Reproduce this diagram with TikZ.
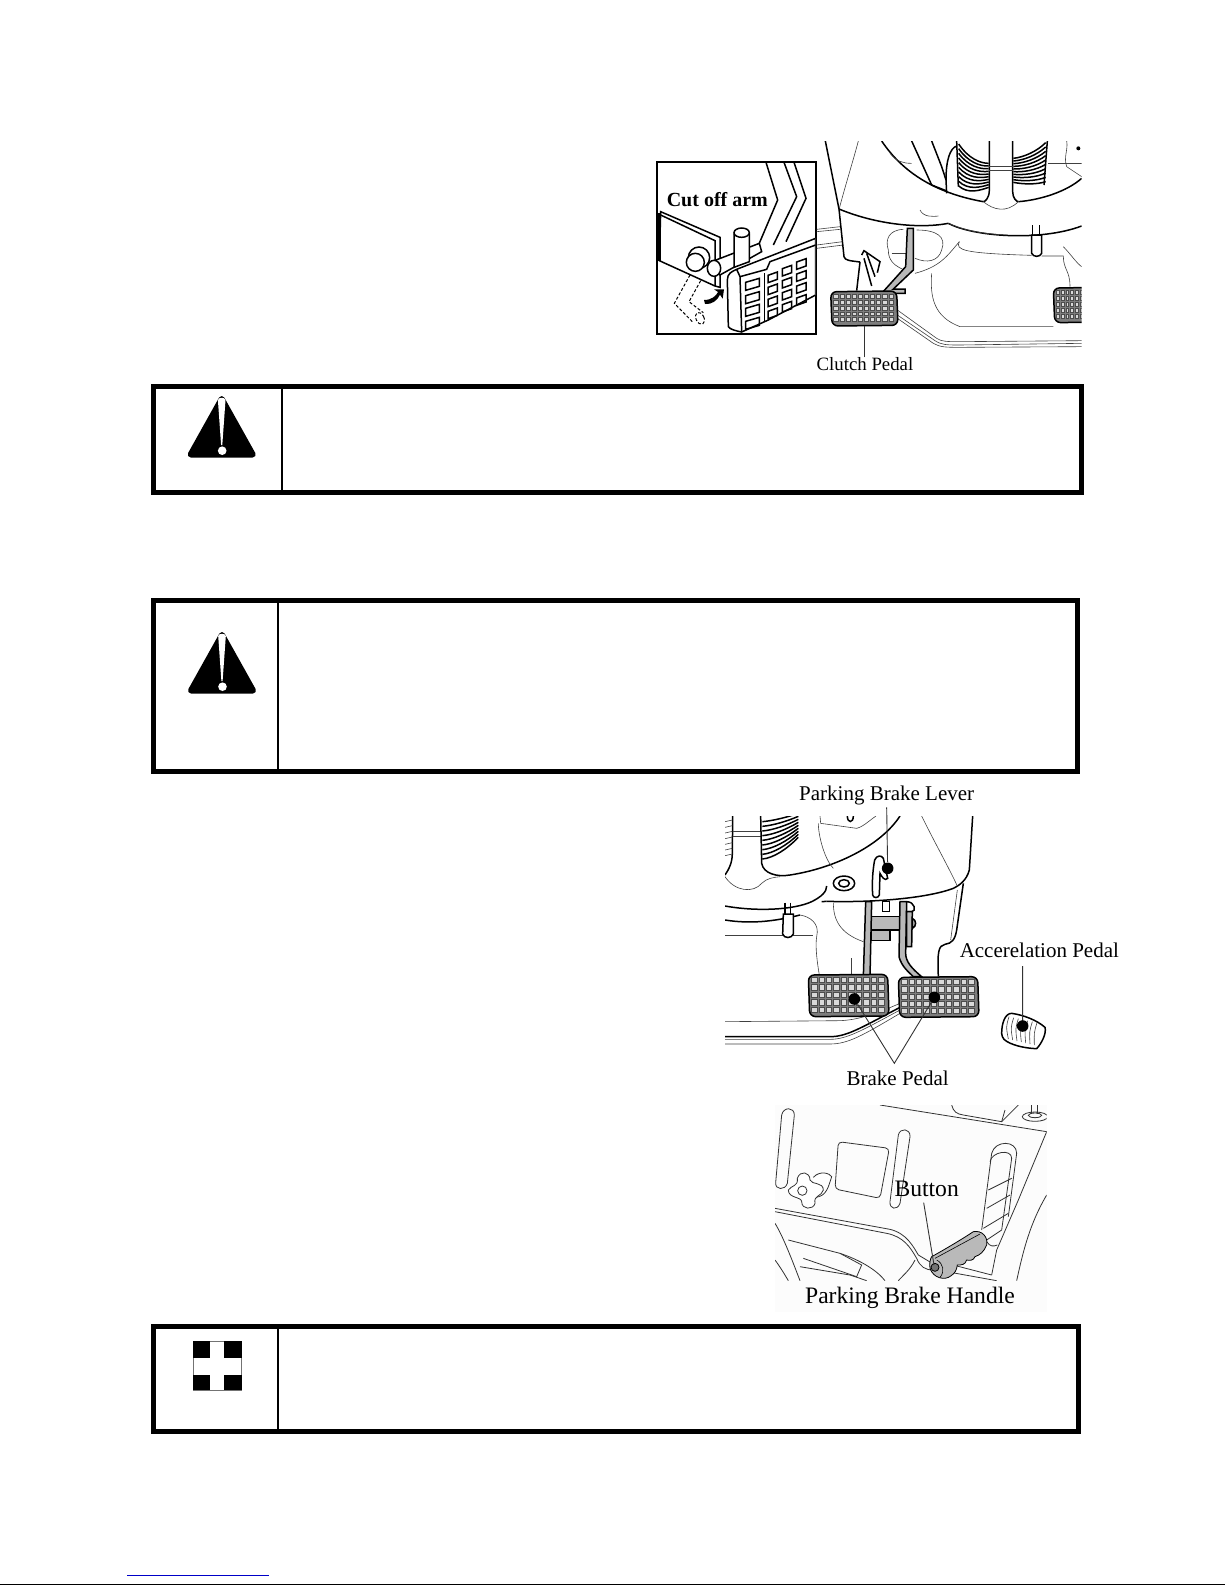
\documentclass[tikz,border=0pt]{standalone}
\usepackage{fontspec}
\setmainfont{Liberation Serif}
\usepackage{xcolor}
\usetikzlibrary{positioning,calc}
\definecolor{padgray}{RGB}{125,125,125}
\definecolor{armgray}{RGB}{185,185,185}
\definecolor{linkblue}{RGB}{0,0,200}
\tikzset{
  frame/.style={draw=black, line width=2.5pt},
  divider/.style={draw=black, line width=1pt},
  heavy/.style={draw=black, line width=0.75pt},
  fine/.style={draw=black!75, line width=0.3pt},
  soft/.style={draw=black!80, line width=0.4pt},
  shadow line/.style={draw=black, dash pattern=on 1.5pt off 1pt, line width=0.5pt},
  tag/.style={inner sep=0pt, font=\fontsize{10.5}{12}\selectfont},
  bigtag/.style={inner sep=0pt, font=\fontsize{11.8}{13}\selectfont},
  leader/.style={draw=black!80, line width=0.45pt},
  spot/.style={circle, fill=black, inner sep=0pt, minimum size=5.8pt},
  cellbox/.style={draw=black!70, line width=0.3pt, fill=black!15},
}
% warning triangle, #1 centre, #2 top level
\newcommand{\warnsign}[2]{
  \fill[black, line join=round, line width=3pt, draw=black]
    ($(#1,#2)+(0,5)$) -- ($(#1,#2)+(31,60.5)$) -- ($(#1,#2)+(-31,60.5)$) -- cycle;
  \fill[white] ($(#1,#2)+(-3.8,6)$) .. controls ($(#1,#2)+(-3.2,3)$) and ($(#1,#2)+(3.2,3)$) .. ($(#1,#2)+(3.8,6)$)
    -- ($(#1,#2)+(0.6,51)$) -- ($(#1,#2)+(-0.6,51)$) -- cycle;
  \fill[white] ($(#1,#2)+(0.5,56.7)$) circle (4.3);
}
% ribbed pedal pad: corners #1 #2, #3 #4 in zoom units
\newcommand{\pedalpad}[4]{
  \fill[padgray, draw=black, line width=0.75pt, rounded corners=3pt]
    (#1,#2+2) -- (#3-2,#2) -- (#3+2,#4-2) -- (#1+4,#4) -- cycle;
  \foreach \cx in {0,...,9}
    \foreach \cy in {0,...,4}
      \draw[cellbox] ({#1+8+\cx*(#3-#1-16)/10+1},{#2+9+\cy*(#4-#2-16)/5})
        rectangle ++({(#3-#1-16)/10-6},{(#4-#2-16)/5-6});
}
\begin{document}
\begin{tikzpicture}[x=0.5pt, y=-0.5pt]
\useasboundingbox (0,0) rectangle (1225,1585);

% notice boxes
\draw[frame] (153.5,386.5) rectangle (1081.5,492);
\draw[divider] (281.7,389) -- (281.7,490);
\warnsign{221.7}{394}
\draw[frame] (153.5,600.5) rectangle (1077.5,771);
\draw[divider] (278,603) -- (278,769);
\warnsign{222}{630}
\draw[frame] (153.5,1326.5) rectangle (1078,1431.5);
\draw[line width=1pt] (277.7,1329) -- (277.7,1429);
% cross sign
\draw[draw=black!55, line width=0.5pt] (193,1341) rectangle (241.7,1390.5);
\fill (193,1341) rectangle (210,1358);
\fill (224,1341) rectangle (241.7,1358);
\fill (193,1375) rectangle (210,1390);
\fill (224,1375) rectangle (241.7,1390);

% clutch figure
\begin{scope}[shift={(640,130)}, scale=1/3]
  \draw[line width=1pt] (52,97) rectangle (527,611);
  \begin{scope}
    \clip (52,97) rectangle (527,611);
    \draw[heavy] (378,97) -- (413,210) -- (345,370);
    \draw[heavy] (432,97) -- (470,200) -- (400,345);
    \draw[heavy] (462,97) -- (498,205) -- (438,335);
    % bracket plate
    \draw[heavy, fill=white] (62,245) -- (240,322) -- (240,472) -- (225,468) -- (58,392) -- cycle;
    \draw[heavy] (62,255) -- (225,332) -- (225,468);
    \draw[line width=1.5pt] (58,250) -- (58,392);
    % rod and bolt
    \draw[heavy, fill=white] (215,395) -- (358,340) -- (365,365) -- (240,435) -- cycle;
    \draw[heavy, fill=white] (222,415) ellipse (20 and 24);
    \draw[heavy, fill=white] (177,383) circle (32);
    \draw[heavy, fill=white] (166,397) circle (27);
    % post
    \draw[heavy, fill=white] (282,310) -- (282,412) -- (328,395) -- (328,310);
    \draw[heavy, fill=white] (305,308) ellipse (23 and 14);
    % dashed lever
    \draw[shadow line] (150,435) -- (103,520) -- (160,578);
    \draw[shadow line] (182,452) -- (147,515) -- (190,548);
    \draw[shadow line, rotate around={25:(180,565)}] (180,565) ellipse (12 and 19);
    % swing arrow
    \fill (192,510) .. controls (215,510) and (228,498) .. (234,486) -- (222,478) -- (252,478) -- (248,506)
      -- (240,494) .. controls (232,512) and (215,524) .. (195,522) -- cycle;
    % pedal face
    \draw[heavy, fill=white] (262,450) .. controls (262,430) and (275,425) .. (290,418)
      -- (527,325) -- (527,495) -- (385,570) -- (305,606) .. controls (285,602) and (270,598) .. (265,590) -- cycle;
    \draw[heavy] (305,606) -- (300,440) -- (290,418);
    \draw[heavy] (300,440) -- (380,418) -- (390,395) -- (527,345);
    \draw[heavy] (373,430) -- (373,575);
    \foreach \ry in {457,497,535,574} {
      \draw[heavy] (317,\ry) -- ++(41,-12) -- ++(0,24) -- ++(-41,12) -- cycle;
    }
    \foreach \cx in {0,1,2}
      \foreach \cy in {0,1,2,3} {
        \draw[heavy] ({384+\cx*43},{436-\cx*20+\cy*36}) -- ++(28,-10) -- ++(0,22) -- ++(-28,10) -- cycle;
      }
  \end{scope}
  \node[font=\fontsize{10}{12}\selectfont\bfseries, inner sep=0pt] (armtag) at (232,210) {Cut off arm};

  % console behind the clutch pedal
  \begin{scope}
    \clip (528,33) rectangle (1325,660);
    \draw[fine] (530,298) -- (600,290);
    \draw[fine] (530,305) -- (600,298);
    \draw[fine] (530,345) -- (608,335);
    \draw[fine] (530,355) -- (610,345);
    \draw[heavy] (556,33) -- (597,237) -- (612,380) .. controls (615,392) and (630,392) .. (660,396);
    \draw[fine] (655,33) .. controls (640,90) and (615,170) .. (598,235);
    \draw[heavy] (660,396) -- (650,482);
    \draw[heavy] (597,237) .. controls (700,280) and (830,298) .. (925,280);
    \draw[heavy] (725,33) .. controls (790,130) and (890,190) .. (1030,215);
    \draw[heavy] (1135,215) .. controls (1200,210) and (1280,185) .. (1325,145);
    \draw[heavy] (925,280) .. controls (1000,320) and (1200,335) .. (1325,288);
    \draw[heavy] (815,33) -- (875,165) -- (918,182);
    \draw[heavy] (875,33) -- (905,110) -- (918,150) -- (920,190);
    \draw[heavy] (918,150) .. controls (918,90) and (930,55) .. (950,48);
    \draw[heavy] (950,33) -- (955,170);
    \draw[heavy] (1048,33) -- (1048,180) .. controls (1048,205) and (1035,215) .. (1030,215);
    \draw[heavy] (1118,33) -- (1118,185) .. controls (1118,205) and (1130,215) .. (1135,215);
    \draw[heavy] (1222,33) -- (1212,165);
    \foreach \sy in {0,1,...,9} {
      \draw[heavy] (956,{42+\sy*14}) .. controls (985,{85+\sy*12}) and (1020,{100+\sy*9}) .. (1046,{100+\sy*8});
      \draw[heavy] (1217,{38+\sy*13}) .. controls (1190,{65+\sy*11}) and (1150,{82+\sy*9}) .. (1120,{85+\sy*8});
    }
    \draw[fine] (1048,110) -- (1118,110);
    \draw[fine] (1048,120) -- (1118,120);
    \draw[fine] (1030,215) .. controls (1060,240) and (1100,250) .. (1135,215);
    \draw[fine] (750,70) .. controls (770,95) and (790,100) .. (815,100);
    \draw[fine] (1225,100) -- (1325,100);
    \draw[fine] (1280,33) .. controls (1285,60) and (1270,80) .. (1280,110) -- (1325,140);
    \fill (1315,55) circle (6);
    \draw[fine] (840,240) .. controls (850,262) and (880,260) .. (895,258);
    \draw[fine] (925,280) .. controls (960,295) and (1000,310) .. (1100,315);
    % lower floor
    \draw[fine] (790,298) .. controls (745,300) and (735,330) .. (745,360) .. controls (745,385) and (755,410) .. (810,425);
    \draw[fine] (830,300) .. controls (890,300) and (920,320) .. (905,360) .. controls (895,395) and (860,400) .. (825,385);
    \draw[fine] (755,370) -- (800,370);
    \draw[fine] (958,335) .. controls (920,380) and (900,410) .. (825,430);
    \draw[fine] (875,430) .. controls (870,500) and (880,560) .. (960,590) -- (1240,590);
    \draw[fine] (958,335) .. controls (945,360) and (970,370) .. (1175,376);
    \draw[fine] (1205,378) -- (1270,378) .. controls (1270,420) and (1290,420) .. (1290,470);
    \draw[fine] (1270,350) .. controls (1290,370) and (1310,400) .. (1325,410);
    % latch
    \draw[heavy, fill=white] (1175,315) -- (1205,315) -- (1205,370) .. controls (1200,382) and (1180,382) .. (1175,370) -- cycle;
    \draw[heavy] (1178,285) -- (1178,315);
    \draw[heavy] (1198,285) -- (1198,315);
    % pin clip
    \draw[heavy] (665,375) -- (672,362) -- (720,395) -- (712,428);
    \draw[heavy] (672,385) -- (695,468);
    \draw[heavy] (680,370) -- (705,440);
    % clutch arm
    \draw[heavy, fill=armgray] (802,295) -- (797,410) -- (725,490) -- (795,490) -- (795,477) -- (760,477) -- (820,420) -- (820,295) -- cycle;
    % floor sill
    \draw[fine] (772,540) -- (890,625) .. controls (905,635) and (920,635) .. (960,635) -- (1325,632);
    \draw[fine] (772,555) -- (885,632) .. controls (905,645) and (920,645) .. (960,645) -- (1325,640);
    \draw[fine] (772,565) -- (880,640) .. controls (900,652) and (920,652) .. (960,652) -- (1325,650);
    \pedalpad{1240}{472}{1400}{578}
    \pedalpad{572}{483}{772}{588}
  \end{scope}
  \node[tag, font=\fontsize{9.4}{11}\selectfont] (clutchtag) at (675,703) {Clutch Pedal};
  \coordinate (clutchend) at (673,588);
  \draw[leader] (clutchtag.north -| clutchend) -- (clutchend);
\end{scope}

% brake figure
\begin{scope}[shift={(700,780)}, scale=1/3]
  \begin{scope}
    \clip (75,108) rectangle (830,800);
    \draw[heavy] (98,108) -- (97,220) .. controls (97,250) and (85,270) .. (75,285);
    \foreach \sy in {0,...,6} { \draw[fine] (75,{125+\sy*17}) -- (97,{120+\sy*17}); }
    \draw[fine] (98,155) -- (182,155);
    \draw[fine] (98,170) -- (182,170);
    \draw[heavy] (182,108) -- (185,250) .. controls (190,280) and (230,292) .. (270,285)
      .. controls (400,265) and (540,200) .. (600,108);
    \draw[fine] (75,290) .. controls (105,335) and (160,340) .. (185,310) .. controls (200,295) and (220,292) .. (240,290);
    \foreach \sy in {0,...,8} {
      \draw[heavy] (187,{125+\sy*14}) .. controls (220,{122+\sy*14}) and (260,{112+\sy*12}) .. (295,{100+\sy*9});
    }
    \draw[fine] (360,108) -- (362,130) -- (470,145) .. controls (490,140) and (510,120) .. (528,108);
    \draw[heavy] (442,108) .. controls (442,130) and (460,130) .. (460,108);
    \draw[fine] (355,130) .. controls (355,170) and (375,240) .. (400,265);
    % column shroud
    \draw[heavy] (818,108) -- (808,270) .. controls (800,300) and (780,315) .. (760,325)
      .. controls (680,355) and (520,368) .. (380,364);
    \draw[fine] (665,108) .. controls (700,180) and (745,260) .. (772,318);
    \draw[heavy] (790,310) -- (770,450) .. controls (765,480) and (755,490) .. (735,493)
      .. controls (715,497) and (712,515) .. (715,590);
    \draw[fine] (772,330) -- (752,480);
    \draw[heavy] (75,378) .. controls (170,395) and (280,390) .. (335,365) .. controls (365,350) and (380,335) .. (380,318);
    \draw[heavy] (380,364) -- (365,365);
    \draw[heavy] (75,420) .. controls (150,432) and (220,425) .. (300,405);
    \draw[fine] (300,405) .. controls (330,410) and (360,430) .. (350,470) .. controls (345,500) and (352,550) .. (358,585);
    \draw[fine] (75,465) -- (340,465);
    \draw[fine] (400,368) .. controls (400,420) and (420,460) .. (490,485);
    \draw[fine] (455,535) -- (455,585);
    % lever recess
    \draw[heavy, fill=white] (432,310) ellipse (32 and 22);
    \draw[heavy] (432,310) ellipse (16 and 11);
    % latch
    \draw[heavy, fill=white] (250,402) -- (280,402) -- (280,462) .. controls (275,476) and (252,476) .. (248,462) -- cycle;
    \draw[heavy] (255,368) -- (255,402);
    \draw[heavy] (272,368) -- (272,402);
    % parking lever
    \draw[heavy, fill=white] (518,345) .. controls (515,300) and (520,260) .. (524,240)
      .. controls (530,225) and (545,225) .. (550,235) -- (563,295) .. controls (555,305) and (545,290) .. (540,280)
      -- (538,345) .. controls (535,355) and (520,355) .. (518,345) -- cycle;
    % floor sill
    \draw[fine] (75,725) -- (420,722) .. controls (470,720) and (520,705) .. (600,670);
    \draw[heavy] (75,770) -- (390,770) .. controls (440,770) and (480,745) .. (600,682);
    \draw[fine] (75,778) -- (390,778) .. controls (440,778) and (485,752) .. (600,690);
    \draw[fine] (75,792) -- (390,792) .. controls (445,792) and (490,765) .. (600,700);
    % pedal arms and links
    \draw[heavy, fill=white] (548,365) rectangle (568,395);
    \draw[heavy, fill=white] (620,365) .. controls (645,365) and (650,395) .. (635,395) -- (620,395);
    \draw[heavy, fill=armgray] (515,410) -- (612,410) -- (612,450) -- (515,450) -- cycle;
    \draw[heavy, fill=armgray] (515,450) -- (570,450) -- (570,482) -- (515,482) -- cycle;
    \draw[heavy, fill=armgray] (497,365) -- (490,590) -- (510,590) -- (515,365) -- cycle;
    \draw[heavy, fill=armgray] (600,365) -- (597,530) .. controls (605,560) and (625,575) .. (640,590) -- (665,590)
      .. controls (635,565) and (617,545) .. (617,520) -- (620,365) -- cycle;
    \draw[heavy, fill=armgray] (620,395) -- (637,395) -- (635,500) -- (620,500) -- cycle;
    \draw[heavy, fill=armgray] (637,415) .. controls (650,420) and (650,440) .. (637,445) -- cycle;
  \end{scope}
  \pedalpad{325}{583}{565}{710}
  \pedalpad{595}{590}{835}{712}
  % accelerator
  \draw[heavy, fill=white] (905,760) .. controls (905,730) and (915,700) .. (935,700)
    .. controls (970,705) and (1010,720) .. (1035,742) .. controls (1040,760) and (1025,790) .. (1010,806)
    .. controls (975,805) and (930,795) .. (912,778) .. controls (908,772) and (905,768) .. (905,760) -- cycle;
  \foreach \gx in {0,...,6} {
    \draw[fine] ({927+\gx*14},{710+\gx*3}) .. controls ({918+\gx*14},{740+\gx*3}) .. ({925+\gx*13},{777+\gx*3});
  }
  \node[tag] (levertag) at (560,45) {Parking Brake Lever};
  \node[tag] (acceltag) at (1018,512) {Accerelation Pedal};
  \node[tag] (braketag) at (593,895) {Brake Pedal};
  \node[spot] (leverspot) at (563,265) {};
  \node[spot] (accelspot) at (968,738) {};
  \node[spot] (brakespotA) at (463,657) {};
  \node[spot] (brakespotB) at (703,652) {};
  \coordinate (brakejoin) at (583,850);
  \draw[leader] (560,82) -- (leverspot);
  \draw[leader] (968,558) -- (accelspot);
  \draw[leader] (brakespotA) -- (brakejoin) -- (brakespotB);
\end{scope}

% handle figure
\begin{scope}[shift={(760,1090)}, scale=1/3]
  \fill[black!1] (45,45) rectangle (862,665);
  \begin{scope}
    \clip (45,45) rectangle (860,572);
    \draw[soft] (65,75) .. controls (70,50) and (103,50) .. (103,75)
      -- (82,280) .. controls (75,302) and (45,300) .. (47,278) -- cycle;
    \draw[soft] (415,135) .. controls (420,112) and (452,115) .. (450,140)
      -- (420,340) .. controls (412,362) and (388,358) .. (390,335) -- cycle;
    \draw[soft, rounded corners=2pt] (235,155) -- (388,175) -- (360,325) -- (225,297) -- cycle;
    \draw[soft] (360,45) -- (860,125);
    \draw[soft] (575,45) .. controls (580,65) and (590,72) .. (610,75) -- (725,95) -- (775,45);
    \draw[soft] (725,95) -- (735,60);
    \draw[soft] (860,125) -- (775,330) -- (710,480) -- (695,555);
    \draw[soft] (860,315) .. controls (810,400) and (790,480) .. (770,572);
    % nut at the top
    \draw[soft] (815,45) -- (815,72);
    \draw[soft] (832,45) -- (832,72);
    \draw[soft] (825,80) ellipse (38 and 14);
    \draw[soft] (825,76) ellipse (20 and 7);
    % slot with the handle
    \draw[soft] (665,420) -- (695,190) .. controls (705,150) and (770,150) .. (770,190) -- (745,380);
    \draw[soft] (690,215) .. controls (695,185) and (755,175) .. (755,205) -- (725,420);
    \draw[soft] (685,300) -- (755,265);
    \draw[soft] (680,355) -- (750,315);
    \draw[soft] (670,415) -- (745,370);
    \draw[soft] (680,450) -- (725,420);
    \draw[soft] (680,455) .. controls (690,470) and (700,470) .. (712,465);
    % knob
    \draw[soft, fill=white] (160,262) .. controls (180,240) and (210,250) .. (215,260)
      .. controls (205,290) and (200,320) .. (165,322);
    \draw[soft, fill=white] (85,300) .. controls (95,285) and (115,290) .. (112,265)
      .. controls (120,240) and (150,245) .. (150,270) .. controls (155,285) and (190,275) .. (190,300)
      .. controls (185,320) and (160,315) .. (165,340) .. controls (160,360) and (125,360) .. (125,335)
      .. controls (125,320) and (85,325) .. (85,300) -- cycle;
    \draw[soft] (127,302) circle (14);
    % dash panel rim
    \draw[soft] (45,365) -- (380,430) .. controls (430,440) and (450,470) .. (470,505)
      .. controls (480,530) and (495,540) .. (520,540);
    \draw[soft] (45,355) -- (390,418) .. controls (440,430) and (460,470) .. (475,495) -- (525,525);
    \draw[soft] (465,510) .. controls (450,540) and (430,555) .. (415,572);
    \draw[soft] (560,520) -- (695,555);
    \draw[soft] (560,545) -- (710,572);
    \draw[soft] (45,400) .. controls (70,440) and (100,520) .. (120,572);
    \draw[soft] (85,450) -- (240,490) -- (305,525) -- (290,560) -- (130,505);
    \draw[soft] (240,490) .. controls (300,510) and (350,540) .. (375,572);
    \draw[soft] (120,530) -- (270,555) -- (320,572);
    \draw[soft] (45,510) .. controls (60,530) and (75,555) .. (85,572);
    % handle grip
    \draw[draw=black, line width=0.4pt, fill=armgray]
      (515,500) .. controls (560,475) and (610,445) .. (640,425) .. controls (665,420) and (685,440) .. (680,465)
      .. controls (672,485) and (660,495) .. (645,500) .. controls (640,512) and (630,512) .. (620,510)
      .. controls (615,525) and (605,525) .. (592,525) .. controls (590,540) and (585,550) .. (572,558)
      .. controls (555,572) and (520,565) .. (510,535) .. controls (508,520) and (510,508) .. (515,500) -- cycle;
    \draw[draw=black, line width=0.3pt] (525,505) -- (660,432);
    \draw[draw=black, line width=0.3pt] (530,510) .. controls (550,520) and (555,545) .. (540,562);
    \draw[draw=black, line width=0.4pt, fill=black!55] (525,532) circle (12);
  \end{scope}
  \node[bigtag] (buttontag) at (500,297) {Button};
  \node[bigtag] (handletag) at (450,625) {Parking Brake Handle};
  \coordinate (buttonend) at (522,525);
  \draw[leader] (491,338) -- (buttonend);
\end{scope}

% page foot
\draw[linkblue, line width=0.5pt] (127,1575) -- (269,1575);
\draw[black, line width=0.5pt] (0,1584.4) -- (1225,1584.4);
\end{tikzpicture}
\end{document}
